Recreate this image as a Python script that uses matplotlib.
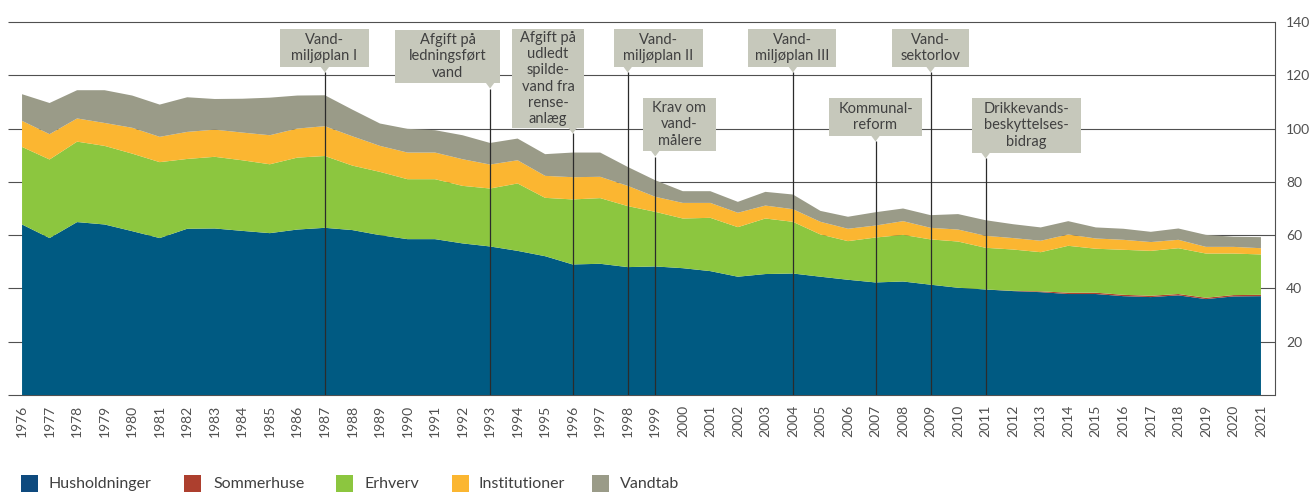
import matplotlib
matplotlib.use("Agg")
import matplotlib.pyplot as plt
from matplotlib.patches import Rectangle, Polygon
import numpy as np

plt.rcParams['font.family'] = ['Lato', 'DejaVu Sans']
plt.rcParams['font.weight'] = 'normal'

# ---------------- data ----------------
years = list(range(1976, 2022))

husholdninger = [64.0, 58.9, 64.9, 64.0, 61.5, 58.9, 62.4, 62.5, 61.6, 60.75,
                 62.1, 62.75, 61.9, 60.0, 58.5, 58.5, 56.9, 55.75, 54.1, 52.1,
                 49.0, 49.25, 48.0, 48.25, 47.6, 46.5, 44.4, 45.4, 45.6, 44.4,
                 43.25, 42.25, 42.6, 41.4, 40.25, 39.6, 39.0, 38.6, 37.9, 37.9,
                 37.1, 36.75, 37.4, 36.0, 37.0, 37.1]
sommerhuse = [0.0] * 36 + [0.1, 0.3, 0.5, 0.5, 0.5, 0.5, 0.5, 0.5, 0.5, 0.5]
erhverv = [29.1, 29.5, 30.2, 29.5, 29.1, 28.5, 26.2, 26.9, 26.5, 25.85,
           27.0, 26.95, 24.2, 23.75, 22.5, 22.5, 21.6, 21.75, 25.3, 21.9,
           24.4, 24.65, 22.9, 20.5, 18.65, 20.0, 18.6, 20.85, 19.4, 15.85,
           14.5, 16.85, 17.5, 17.0, 17.35, 15.65, 15.5, 14.7, 17.6, 16.5,
           16.9, 16.85, 17.2, 16.6, 15.6, 15.15]
institutioner = [9.8, 9.5, 8.7, 8.6, 9.7, 9.5, 10.15, 10.2, 10.4, 10.9,
                 10.9, 11.2, 11.0, 9.75, 10.0, 10.0, 10.0, 9.0, 8.7, 8.25,
                 8.35, 8.0, 7.6, 5.65, 5.85, 5.6, 5.4, 4.85, 4.75, 4.75,
                 4.65, 4.5, 5.15, 4.35, 4.5, 4.5, 4.3, 4.3, 4.25, 3.85,
                 3.75, 3.3, 3.15, 2.5, 2.5, 2.35]
vandtab = [10.0, 11.7, 10.6, 12.3, 12.1, 12.1, 13.0, 11.5, 12.7, 14.1,
           12.4, 11.6, 10.0, 8.4, 8.9, 8.4, 9.0, 8.1, 8.15, 8.15,
           9.25, 9.1, 7.1, 6.2, 4.4, 4.4, 4.1, 5.15, 5.5, 4.1,
           4.5, 5.0, 4.75, 4.75, 5.8, 5.85, 5.2, 5.0, 5.0, 4.15,
           4.15, 3.85, 4.25, 4.5, 3.8, 4.15]

series_names = ["Husholdninger", "Sommerhuse", "Erhverv", "Institutioner", "Vandtab"]
y_ticks = [20, 40, 60, 80, 100, 120, 140]

event_years = [1987, 1993, 1996, 1998, 1999, 2004, 2007, 2009, 2011]
event_labels = ["Vand-\nmiljøplan I",
                "Afgift på\nledningsført\nvand",
                "Afgift på\nudledt\nspilde-\nvand fra\nrense-\nanlæg",
                "Vand-\nmiljøplan II",
                "Krav om\nvand-\nmålere",
                "Vand-\nmiljøplan III",
                "Kommunal-\nreform",
                "Vand-\nsektorlov",
                "Drikkevands-\nbeskyttelses-\nbidrag"]

# ---------------- style / layout ----------------
colors = ["#005a82", "#b0402e", "#8cc63f", "#fbb631", "#9a9b88"]
legend_colors = ["#0e4a7e", "#ad3f2e", "#8cc63f", "#fbb631", "#9a9b88"]
box_color = "#c6c8bb"
text_color = "#404040"
tick_color = "#505050"
grid_color = "#505050"

W, H = 1312, 492
# box layout in pixels: (left, right, top, bottom)
box_px = [(280, 369, 29, 67), (395, 500, 30, 83), (512, 584, 29, 128),
          (614, 703, 29, 67), (643, 716, 98, 151), (748, 836, 29, 67),
          (829, 922, 98, 136), (892, 969, 29, 67), (972, 1081, 98, 153)]
legend_sq_px = [21, 184, 336, 452, 592]
legend_tx_px = [49, 213, 364, 479, 620]

fig = plt.figure(figsize=(W / 100, H / 100), dpi=100)
ax = fig.add_axes([8 / W, (H - 395) / H, (1275 - 8) / W, (395 - 22) / H])
ax.set_xlim(1975.49, 2021.51)
ax.set_ylim(0, 140)

# grid lines (behind)
ax.hlines([0] + y_ticks, 1975.49, 2021.51, colors=grid_color, linewidth=0.8,
          zorder=0, clip_on=False)

ax.stackplot(years, husholdninger, sommerhuse, erhverv, institutioner, vandtab,
             colors=colors, linewidth=0, zorder=1, labels=series_names)

for s in ["top", "left", "bottom"]:
    ax.spines[s].set_visible(False)
ax.spines["right"].set_color(grid_color)
ax.spines["right"].set_linewidth(0.8)

ax.set_xticks(years)
ax.set_xticklabels([str(y) for y in years], rotation=90, fontsize=10,
                   color=tick_color)
ax.tick_params(axis="x", length=0, pad=7)
ax.yaxis.tick_right()
ax.set_yticks(y_ticks)
ax.set_yticklabels([str(v) for v in y_ticks], fontsize=10, color=tick_color)
ax.tick_params(axis="y", length=0, pad=8)

# annotations
inv = ax.transData.inverted()
def px2data(px, py):
    return inv.transform((px, H - py))

for yr, lab, (l, r, t, b) in zip(event_years, event_labels, box_px):
    x0, y0 = px2data(l, b)
    x1, y1 = px2data(r, t)
    ax.add_patch(Rectangle((x0, y0), x1 - x0, y1 - y0, facecolor=box_color,
                           edgecolor="none", zorder=5, clip_on=False))
    ax.text((x0 + x1) / 2, (y0 + y1) / 2, lab, ha="center", va="center",
            fontsize=10.5, color=text_color, linespacing=1.2, zorder=6)
    xd_px = ax.transData.transform((yr, 0))[0]
    tl = px2data(xd_px - 4.5, b - 0.5)
    tr = px2data(xd_px + 4.5, b - 0.5)
    tip = px2data(xd_px, b + 5.5)
    ax.add_patch(Polygon([tl, tr, tip], closed=True, facecolor=box_color,
                         edgecolor="none", zorder=5, clip_on=False))
    ax.vlines(yr, 0, tip[1], colors="#2b2b2b", linewidth=0.9, zorder=4)

# legend
for name, c, sx, tx in zip(series_names, legend_colors, legend_sq_px, legend_tx_px):
    fig.patches.append(Rectangle((sx / W, 0), 17 / W, 17 / H, facecolor=c,
                                 edgecolor="none", transform=fig.transFigure,
                                 figure=fig))
    fig.text(tx / W, (H - 484) / H, name, ha="left", va="center",
             fontsize=11.5, color=text_color)

fig.savefig("out.png", dpi=100)
